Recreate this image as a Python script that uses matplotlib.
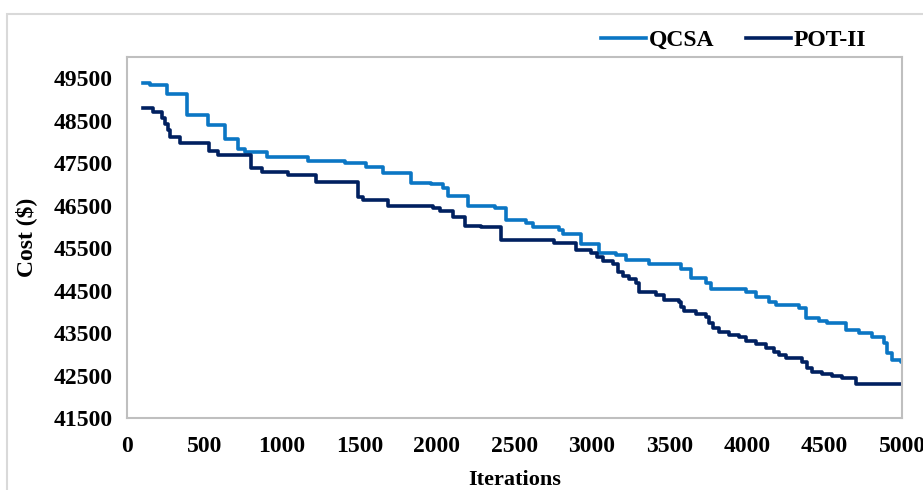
import numpy as np
import matplotlib.pyplot as plt
from matplotlib.patches import Rectangle

# convergence data: iteration where the best cost changes, and the new cost
qcsa_iter = [100, 148, 256, 389, 522, 631, 717, 760, 900, 1166, 1405, 1544, 1650,
             1834, 1962, 2036, 2068, 2197, 2371, 2448, 2575, 2617, 2790, 2811, 2929,
             3048, 3155, 3220, 3370, 3573, 3637, 3734, 3766, 3991, 4056, 4142, 4185,
             4336, 4379, 4465, 4519, 4637, 4723, 4807, 4884, 4903, 4936, 4992, 5000]
qcsa_cost = [49390, 49335, 49140, 48646, 48394, 48081, 47823, 47752, 47634, 47554,
             47493, 47413, 47258, 47030, 47006, 46905, 46724, 46488, 46434, 46159,
             46095, 45987, 45924, 45822, 45594, 45390, 45335, 45218, 45135, 44999,
             44787, 44670, 44528, 44472, 44354, 44237, 44159, 44081, 43846, 43789,
             43728, 43571, 43493, 43399, 43258, 43022, 42865, 42825, 42825]

pot_iter = [100, 169, 223, 244, 265, 276, 340, 526, 590, 803, 868, 1040, 1222, 1490,
            1522, 1683, 1972, 2017, 2103, 2178, 2285, 2414, 2758, 2897, 2994, 3035,
            3070, 3134, 3167, 3199, 3241, 3286, 3305, 3414, 3466, 3563, 3575, 3595,
            3670, 3734, 3756, 3778, 3821, 3885, 3950, 3993, 4056, 4120, 4175, 4207,
            4251, 4358, 4390, 4422, 4487, 4551, 4616, 4701, 5000]
pot_cost = [48802, 48707, 48575, 48434, 48277, 48105, 47964, 47790, 47688, 47375,
            47296, 47218, 47060, 46707, 46630, 46488, 46434, 46378, 46222, 46018,
            45987, 45688, 45611, 45453, 45375, 45295, 45201, 45124, 44942, 44841,
            44764, 44670, 44465, 44394, 44277, 44237, 44105, 44025, 43947, 43884,
            43728, 43611, 43531, 43453, 43399, 43319, 43241, 43140, 43060, 42982,
            42905, 42825, 42669, 42589, 42535, 42488, 42434, 42300, 42300]

x_ticks = np.arange(0, 5001, 500)
y_ticks = np.arange(41500, 49501, 1000)

plt.rcParams['font.family'] = ['Liberation Serif', 'DejaVu Serif']
plt.rcParams['font.weight'] = 'bold'

fig = plt.figure(figsize=(9.23, 4.9), dpi=100)
W, H = 923, 490

# outer chart border
fig.patches.append(Rectangle((7 / W, -0.1), 1.2, 1 - 14 / H + 0.1, transform=fig.transFigure,
                             fill=False, edgecolor='#D9D9D9', linewidth=1.5))

ax = fig.add_axes([127 / W, 1 - 418 / H, (902 - 127) / W, (418 - 57) / H])

ax.plot(qcsa_iter, qcsa_cost, drawstyle='steps-post', color='#0B76C4', lw=2.6, label='QCSA')
ax.plot(pot_iter, pot_cost, drawstyle='steps-post', color='#002060', lw=2.6, label='POT-II')

ax.set_xlim(0, 5000)
ax.set_ylim(41500, 50000)
ax.set_xticks(x_ticks)
ax.set_yticks(y_ticks)
ax.tick_params(length=0, labelsize=17)
ax.tick_params(axis='y', pad=10)
ax.tick_params(axis='x', pad=13)
for s in ax.spines.values():
    s.set_color('#BFBFBF')
    s.set_linewidth(1.5)

ax.set_xlabel('Iterations', fontsize=16, fontweight='bold', labelpad=9)
ax.set_ylabel('Cost ($)', fontsize=17, fontweight='bold', labelpad=12)

ax.legend(loc='lower right', bbox_to_anchor=(0.966, 0.99), ncol=2, frameon=False,
          fontsize=17, handlelength=1.9, handletextpad=0.12, columnspacing=1.35,
          borderaxespad=0)

fig.savefig('out.png', dpi=100)
